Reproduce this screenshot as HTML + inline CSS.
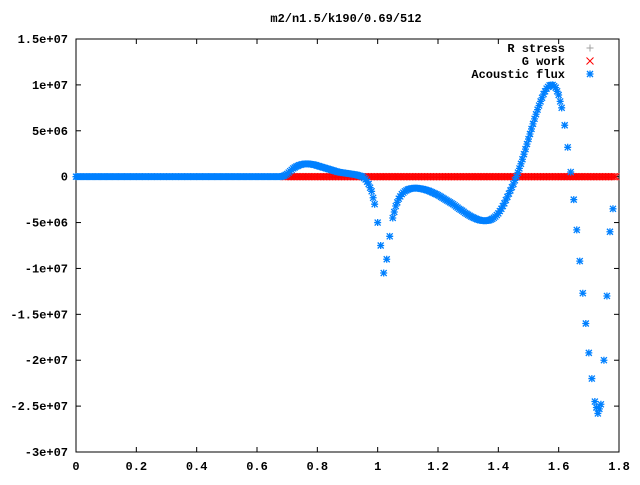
<!DOCTYPE html>
<html><head><meta charset="utf-8"><style>
body{margin:0;background:#fff}
svg text{font-family:"Liberation Mono",monospace;font-weight:bold;font-size:12px;fill:#000}
</style></head><body>
<svg id="chart" width="640" height="480" xmlns="http://www.w3.org/2000/svg">
<text x="346" y="22" text-anchor="middle">m2/n1.5/k190/0.69/512</text>
<g id="axes"></g>
<g id="series"></g>
<g id="legend">
 <text x="565" y="52" text-anchor="end">R stress</text>
 <text x="565" y="65" text-anchor="end">G work</text>
 <text x="565" y="78" text-anchor="end">Acoustic flux</text>
</g>
</svg>
<script>
const xTicks=[0,0.2,0.4,0.6,0.8,1,1.2,1.4,1.6,1.8];
const xTickLabels=["0","0.2","0.4","0.6","0.8","1","1.2","1.4","1.6","1.8"];
const yTicks=[15e6,10e6,5e6,0,-5e6,-10e6,-15e6,-20e6,-25e6,-30e6];
const yTickLabels=["1.5e+07","1e+07","5e+06","0","-5e+06","-1e+07","-1.5e+07","-2e+07","-2.5e+07","-3e+07"];
const fluxStart=0, fluxStep=0.01;
const fluxMillions=[0,0,0,0,0,0,0,0,0,0,0,0,0,0,0,0,0,0,0,0,0,0,0,0,0,0,0,0,0,0,0,0,0,0,0,0,0,0,0,0,0,0,0,0,0,0,0,0,0,0,0,0,0,0,0,0,0,0,0,0,0,0,0,0,0,0,0,0,0,
0.1,0.3,0.6,0.9,1.1,1.25,1.35,1.4,1.4,1.35,1.3,1.2,1.1,1.0,0.9,0.8,0.7,0.6,0.5,0.45,0.4,0.35,0.3,0.25,0.2,0.1,0,-0.3,-0.8,-1.6,-3,-5,-7.5,-10.5,-9,-6.5,-4.5,-3.2,-2.4,-1.9,-1.6,-1.4,-1.3,-1.25,-1.25,-1.3,-1.35,-1.45,-1.55,-1.7,-1.85,-2.0,-2.2,-2.4,-2.6,-2.8,-3.0,-3.25,-3.5,-3.7,-3.95,-4.15,-4.35,-4.5,-4.65,-4.75,-4.8,-4.8,-4.75,-4.6,-4.35,-4.0,-3.5,-2.9,-2.2,-1.5,-0.8,0,0.9,1.9,3.0,4.1,5.2,6.3,7.3,8.2,9.0,9.6,9.95,10.0,9.7,8.9,7.5,5.6,3.2,0.5,-2.5,-5.8,-9.2,-12.7,-16,-19.2,-22,-24.5,-25.8,-24.8,-20,-13,-6,-3.5];
const workStart=0.69, workStep=0.005;
const workMillions=new Array(221).fill(0);
const stressStart=0, stressStep=0.02;
const stressMillions=new Array(90).fill(0);

const L=76,R=619,T=39,B=452,xMin=0,xMax=1.8,yMin=-30e6,yMax=15e6;
const sx=v=>L+(v-xMin)/(xMax-xMin)*(R-L);
const sy=v=>B-(v-yMin)/(yMax-yMin)*(B-T);
const NS="http://www.w3.org/2000/svg";
function mk(t,a,p){const e=document.createElementNS(NS,t);for(const k in a)e.setAttribute(k,a[k]);p.appendChild(e);return e;}
const axes=document.getElementById('axes'), ser=document.getElementById('series');
const frame=mk('rect',{x:L,y:T,width:R-L,height:B-T,fill:'none',stroke:'#000','stroke-width':1},axes);


xTicks.forEach((v,i)=>{const x=sx(v);
 mk('line',{x1:x,y1:B,x2:x,y2:B-5,stroke:'#000'},axes);mk('line',{x1:x,y1:T,x2:x,y2:T+5,stroke:'#000'},axes);
 const t=mk('text',{x:x,y:B+18,'text-anchor':'middle'},axes);t.textContent=xTickLabels[i];
 
 });
yTicks.forEach((v,i)=>{const y=sy(v);
 mk('line',{x1:L,y1:y,x2:L+5,y2:y,stroke:'#000'},axes);mk('line',{x1:R,y1:y,x2:R-5,y2:y,stroke:'#000'},axes);
 const t=mk('text',{x:L-8,y:y+4,'text-anchor':'end'},axes);t.textContent=yTickLabels[i];
 
 });
function plus(x,y,c,g){mk('path',{d:`M${x-3.5},${y}h7M${x},${y-3.5}v7`,stroke:c,'stroke-width':1,fill:'none'},g);}
function cross(x,y,c,g){mk('path',{d:`M${x-3.5},${y-3.5}l7,7M${x-3.5},${y+3.5}l7,-7`,stroke:c,'stroke-width':1,fill:'none'},g);}
function star(x,y,c,g){mk('path',{d:`M${x-3.5},${y}h7M${x},${y-3.5}v7M${x-3},${y-3}l6,6M${x-3},${y+3}l6,-6`,stroke:c,'stroke-width':1.3,fill:'none'},g);}
const gS=mk('g',{},ser);
stressMillions.forEach((v,i)=>plus(sx(stressStart+i*stressStep),sy(v*1e6),'#a0a0a0',gS));
const gW=mk('g',{},ser);
workMillions.forEach((v,i)=>cross(sx(workStart+i*workStep),sy(v*1e6),'#ff0000',gW));
const gF=mk('g',{},ser);
fluxMillions.forEach((v,i)=>{star(sx(fluxStart+i*fluxStep),sy(v*1e6),'#0080ff',gF);
 if(i<fluxMillions.length-1&&Math.abs(fluxMillions[i+1]-v)<1.5) star(sx(fluxStart+(i+0.5)*fluxStep),sy((v+fluxMillions[i+1])/2*1e6),'#0080ff',gF);});
const lg=document.getElementById('legend');
plus(590,48,'#a0a0a0',lg);cross(590,61,'#ff0000',lg);star(590,74,'#0080ff',lg);
</script>
</body></html>
